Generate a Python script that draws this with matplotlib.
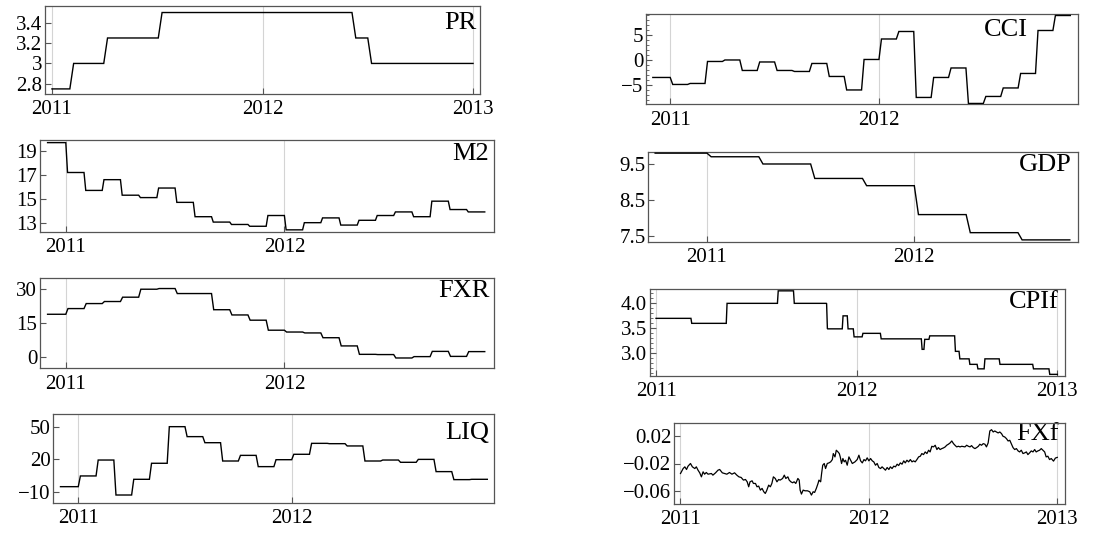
import numpy as np
import matplotlib
matplotlib.use("Agg")
import matplotlib.pyplot as plt
from matplotlib.ticker import FixedLocator, FixedFormatter, MultipleLocator

plt.rcParams['font.family'] = ['Liberation Serif', 'DejaVu Serif']

# ---------------- data ----------------
# Monthly series (Dec 2010 .. Nov 2012), value held for the month
month_start = 2010 + 11 / 12
m2_vals = [19.7, 17.2, 15.7, 16.6, 15.3, 15.1, 15.9, 14.7, 13.5, 13.05, 12.85, 12.7,
           13.6, 12.4, 13.0, 13.4, 12.8, 13.2, 13.6, 13.9, 13.5, 14.8, 14.1, 13.9]
fxr_vals = [18.9, 21.4, 23.6, 24.5, 26.4, 29.9, 30.2, 28.0, 28.0, 20.9, 18.6, 16.3,
            11.9, 11.1, 10.7, 8.6, 5.0, 1.3, 1.2, -0.3, 0.3, 2.6, 0.4, 2.5]
liq_vals = [-5.4, 4.5, 19.2, -13.1, 1.4, 16.2, 50.0, 40.8, 35.2, 18.3, 23.5, 13.1,
            19.5, 24.5, 34.6, 34.3, 32.2, 18.3, 19.2, 17.1, 19.8, 8.5, 1.1, 1.4]
cci_vals = [-3.5, -4.9, -4.7, -0.3, 0.0, -2.1, -0.4, -2.1, -2.3, -0.7, -3.3, -6.0,
            0.1, 4.2, 5.7, -7.5, -3.5, -1.6, -8.7, -7.3, -5.6, -2.7, 5.9, 8.9]

# Policy rate: change dates and levels
pr_edges = [2011.0, 2011.085, 2011.246, 2011.505, 2012.425, 2012.50, 2013.0]
pr_vals = [2.75, 3.0, 3.25, 3.5, 3.25, 3.0]

# GDP growth, quarterly
gdp_edges = [2010.75, 2011.0, 2011.25, 2011.5, 2011.75, 2012.0, 2012.25, 2012.5, 2012.75]
gdp_vals = [9.8, 9.7, 9.5, 9.1, 8.9, 8.1, 7.6, 7.4]

# CPI forecast
cpif_edges = [2011.0, 2011.174, 2011.35, 2011.605, 2011.685, 2011.85, 2011.928, 2011.953,
              2011.983, 2012.027, 2012.118, 2012.322, 2012.335, 2012.36, 2012.488, 2012.51,
              2012.56, 2012.60, 2012.635, 2012.71, 2012.877, 2012.958, 2013.0]
cpif_vals = [3.70, 3.60, 4.00, 4.25, 4.00, 3.49, 3.75, 3.49, 3.33, 3.40, 3.29, 3.08,
             3.28, 3.35, 3.04, 2.89, 2.78, 2.69, 2.89, 2.78, 2.69, 2.58]

# FX forecast (daily-ish)
fxf_t = [2011.000, 2011.014, 2011.023, 2011.032, 2011.040, 2011.053, 2011.063, 2011.076, 2011.084,
         2011.093, 2011.102, 2011.111, 2011.120, 2011.128, 2011.137, 2011.146, 2011.164, 2011.172,
         2011.186, 2011.199, 2011.208, 2011.222, 2011.234, 2011.246, 2011.260, 2011.273, 2011.287,
         2011.299, 2011.310, 2011.322, 2011.334, 2011.345, 2011.354, 2011.362, 2011.369, 2011.380,
         2011.387, 2011.398, 2011.406, 2011.415, 2011.424, 2011.433, 2011.442, 2011.450, 2011.457,
         2011.468, 2011.477, 2011.485, 2011.493, 2011.503, 2011.512, 2011.521, 2011.529, 2011.542,
         2011.551, 2011.559, 2011.570, 2011.577, 2011.586, 2011.595, 2011.603, 2011.612, 2011.623,
         2011.630, 2011.635, 2011.642, 2011.651, 2011.661, 2011.674, 2011.686, 2011.695, 2011.704,
         2011.712, 2011.721, 2011.730, 2011.735, 2011.744, 2011.749, 2011.755, 2011.763, 2011.770,
         2011.779, 2011.788, 2011.797, 2011.806, 2011.811, 2011.820, 2011.827, 2011.836, 2011.843,
         2011.848, 2011.855, 2011.862, 2011.869, 2011.876, 2011.885, 2011.894,
         2011.912, 2011.926, 2011.938, 2011.947, 2011.956, 2011.965, 2011.974, 2011.982, 2011.991,
         2012.000, 2012.009, 2012.018, 2012.026, 2012.035, 2012.044, 2012.053, 2012.062, 2012.070,
         2012.079, 2012.088, 2012.097, 2012.106, 2012.114, 2012.123, 2012.132, 2012.141, 2012.150,
         2012.158, 2012.167, 2012.176, 2012.185, 2012.193, 2012.202, 2012.211, 2012.220, 2012.229,
         2012.237, 2012.246, 2012.255, 2012.264, 2012.273, 2012.281, 2012.290, 2012.299, 2012.308,
         2012.317, 2012.325, 2012.334, 2012.343, 2012.352, 2012.361, 2012.369, 2012.378, 2012.387,
         2012.396, 2012.405, 2012.413, 2012.422, 2012.431, 2012.440, 2012.449, 2012.457, 2012.466,
         2012.475, 2012.484, 2012.493, 2012.510, 2012.519, 2012.528, 2012.537, 2012.545, 2012.554,
         2012.563, 2012.572, 2012.581, 2012.589, 2012.598, 2012.607, 2012.616, 2012.624, 2012.633,
         2012.642, 2012.651, 2012.660, 2012.668, 2012.677, 2012.686, 2012.695, 2012.704, 2012.712,
         2012.721, 2012.730, 2012.739, 2012.748, 2012.756, 2012.765, 2012.774, 2012.783, 2012.792,
         2012.800, 2012.809, 2012.818, 2012.827, 2012.836, 2012.844, 2012.853, 2012.862, 2012.871,
         2012.880, 2012.888, 2012.897, 2012.906, 2012.915, 2012.924, 2012.933, 2012.941, 2012.950,
         2012.959, 2012.968, 2012.980, 2012.990, 2013.000]
fxf_v = [-0.0347, -0.0274, -0.0249, -0.0288, -0.0239, -0.0200, -0.0249, -0.0274, -0.0249,
         -0.0298, -0.0337, -0.0396, -0.0322, -0.0357, -0.0332, -0.0357, -0.0347, -0.0371,
         -0.0337, -0.0298, -0.0288, -0.0337, -0.0347, -0.0357, -0.0332, -0.0357, -0.0337,
         -0.0371, -0.0396, -0.0405, -0.0444, -0.0435, -0.0469, -0.0542, -0.0469, -0.0454,
         -0.0493, -0.0493, -0.0542, -0.0532, -0.0591, -0.0566, -0.0615, -0.0640, -0.0601,
         -0.0518, -0.0542, -0.0493, -0.0396, -0.0420, -0.0469, -0.0435, -0.0444, -0.0420,
         -0.0371, -0.0420, -0.0396, -0.0444, -0.0469, -0.0483, -0.0469, -0.0493, -0.0420,
         -0.0444, -0.0591, -0.0649, -0.0591, -0.0601, -0.0601, -0.0615, -0.0664, -0.0615,
         -0.0625, -0.0566, -0.0493, -0.0444, -0.0469, -0.0347, -0.0225, -0.0200, -0.0274,
         -0.0200, -0.0191, -0.0176, -0.0142, -0.0054, -0.0103, -0.0005, -0.0030, -0.0054,
         -0.0103, -0.0200, -0.0127, -0.0176, -0.0152, -0.0225, -0.0103,
         -0.0200, -0.0176, -0.0142, -0.0078, -0.0161, -0.0191, -0.0142, -0.0161, -0.0117,
         -0.0161, -0.0127, -0.0161, -0.0176, -0.0225, -0.0200, -0.0259, -0.0274, -0.0249,
         -0.0274, -0.0298, -0.0259, -0.0288, -0.0249, -0.0274, -0.0239, -0.0249, -0.0210,
         -0.0230, -0.0191, -0.0210, -0.0161, -0.0191, -0.0152, -0.0176, -0.0142, -0.0176,
         -0.0161, -0.0176, -0.0142, -0.0103, -0.0093, -0.0054, -0.0069, -0.0030, -0.0054,
         -0.0005, -0.0030, 0.0053, 0.0044, 0.0068, 0.0005, 0.0034, 0.0005, 0.0019,
         0.0029, 0.0044, 0.0068, 0.0083, 0.0102, 0.0131, 0.0092, 0.0068, 0.0044,
         0.0053, 0.0044, 0.0053, 0.0044, 0.0068, 0.0053, 0.0044, 0.0063, 0.0034,
         0.0019, 0.0034, 0.0053, 0.0083, 0.0068, 0.0092, 0.0083, 0.0044, 0.0102,
         0.0278, 0.0297, 0.0263, 0.0278, 0.0263, 0.0249, 0.0263, 0.0239, 0.0200,
         0.0190, 0.0166, 0.0131, 0.0141, 0.0092, 0.0034, 0.0005, 0.0019, -0.0015,
         -0.0030, -0.0005, -0.0054, -0.0044, -0.0030, -0.0069, -0.0044, -0.0015, -0.0030,
         0.0005, -0.0030, -0.0015, -0.0005, 0.0019, -0.0005, -0.0030, -0.0103, -0.0093,
         -0.0142, -0.0127, -0.0165, -0.0120, -0.0110]

# tick labels
years = [2011, 2012, 2013]
year_labels = ['2011', '2012', '2013']
pr_ticks, pr_labels = [2.8, 3.0, 3.2, 3.4], ['2.8', '3', '3.2', '3.4']
m2_ticks, m2_labels = [13, 15, 17, 19], ['13', '15', '17', '19']
fxr_ticks, fxr_labels = [0, 15, 30], ['0', '15', '30']
liq_ticks, liq_labels = [-10, 20, 50], ['\u221210', '20', '50']
cci_ticks, cci_labels = [-5, 0, 5], ['\u22125', '0', '5']
gdp_ticks, gdp_labels = [7.5, 8.5, 9.5], ['7.5', '8.5', '9.5']
cpif_ticks, cpif_labels = [3.0, 3.5, 4.0], ['3.0', '3.5', '4.0']
fxf_ticks, fxf_labels = [-0.06, -0.02, 0.02], ['\u22120.06', '\u22120.02', '0.02']

# ---------------- helpers ----------------
W, H = 1106, 535
fig = plt.figure(figsize=(W / 100, H / 100), dpi=100)

FRAME = '#555555'
TICK_FS = 15
LABEL_FS = 19


def make_ax(L, R, T, B, xlim, ylim, yt, yl, label, lab_x, lab_dy, minor=None):
    ax = fig.add_axes([L / W, 1 - B / H, (R - L) / W, (B - T) / H])
    ax.set_xlim(*xlim)
    ax.set_ylim(*ylim)
    ax.xaxis.set_major_locator(FixedLocator(years))
    ax.xaxis.set_major_formatter(FixedFormatter(year_labels))
    ax.yaxis.set_major_locator(FixedLocator(yt))
    ax.yaxis.set_major_formatter(FixedFormatter(yl))
    if minor is not None:
        ax.yaxis.set_minor_locator(MultipleLocator(minor))
        ax.tick_params(axis='y', which='minor', direction='in', length=2.5, width=0.6,
                       color=FRAME, left=True, right=False)
    else:
        ax.yaxis.set_minor_locator(FixedLocator([]))
    ax.xaxis.set_minor_locator(FixedLocator([]))
    ax.tick_params(axis='both', which='major', direction='in', length=4, width=0.8,
                   color=FRAME, labelsize=TICK_FS, pad=2, top=False, right=False)
    ax.tick_params(axis='x', pad=4.5)
    ax.grid(axis='x', color='#d4d4d4', lw=0.8)
    ax.set_axisbelow(True)
    for s in ax.spines.values():
        s.set_color(FRAME)
        s.set_linewidth(0.9)
    h_px = B - T
    ax.text(lab_x, 1 - lab_dy / h_px, label, transform=ax.transAxes, ha='right', va='top',
            fontsize=LABEL_FS, zorder=1)
    return ax


def step_line(ax, edges, vals, ramp=0.012):
    xs, ys = [edges[0]], [vals[0]]
    for i, v in enumerate(vals):
        if i > 0:
            xs.append(edges[i] + ramp)
            ys.append(v)
        xs.append(edges[i + 1])
        ys.append(v)
    ax.plot(xs, ys, color='black', lw=1.0, zorder=3, solid_joinstyle='miter')


month_edges = [month_start + i / 12 for i in range(len(m2_vals) + 1)]

# ---------------- left column ----------------
ax = make_ax(45, 480, 6, 94, (2010.967, 2013.033), (2.70, 3.564), pr_ticks, pr_labels, 'PR', 0.991, 6)
step_line(ax, pr_edges, pr_vals, 0.018)

ax = make_ax(40, 494, 140, 232, (2010.882, 2012.959), (12.22, 19.92), m2_ticks, m2_labels, 'M2', 0.989, 3)
step_line(ax, month_edges, m2_vals, 0.008)

ax = make_ax(40, 494, 277.7, 368.3, (2010.882, 2012.959), (-4.83, 34.96), fxr_ticks, fxr_labels, 'FXR', 0.991, 2)
step_line(ax, month_edges, fxr_vals, 0.01)

ax = make_ax(53.3, 494, 414, 502.7, (2010.883, 2012.948), (-20.2, 61.7), liq_ticks, liq_labels, 'LIQ', 0.989, 8)
step_line(ax, month_edges, liq_vals, 0.01)

# ---------------- right column ----------------
ax = make_ax(646, 1078.3, 14, 104.3, (2010.884, 2012.955), (-8.87, 9.2), cci_ticks, cci_labels, 'CCI', 0.884, 5, minor=1)
step_line(ax, month_edges, cci_vals, 0.012)

ax = make_ax(648.3, 1078.3, 151.7, 241.7, (2010.717, 2012.791), (7.35, 9.84), gdp_ticks, gdp_labels, 'GDP', 0.985, 2)
step_line(ax, gdp_edges, gdp_vals, 0.02)

ax = make_ax(650, 1065, 289, 376, (2010.970, 2013.038), (2.547, 4.287), cpif_ticks, cpif_labels, 'CPIf', 0.9855, 2, minor=0.1)
step_line(ax, cpif_edges, cpif_vals, 0.004)

ax = make_ax(674, 1065, 423, 504, (2010.9655, 2013.041), (-0.0795, 0.0395), fxf_ticks, fxf_labels, 'FXf', 0.985, 0)
ax.plot(fxf_t, fxf_v, color='black', lw=0.9, zorder=3)

fig.savefig('out.png', dpi=100)
